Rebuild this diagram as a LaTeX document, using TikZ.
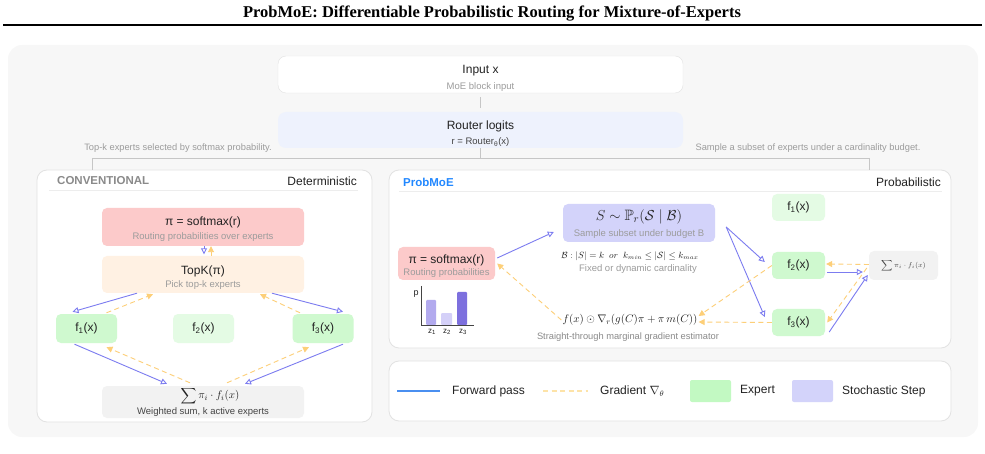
\documentclass[tikz,border=0pt]{standalone}
\usepackage{fontspec}
\setmainfont{Liberation Sans}
\newfontfamily\titlefont{Liberation Serif}
\usepackage{amssymb}
\usetikzlibrary{arrows.meta}

\definecolor{bggray}{HTML}{F7F7F7}
\definecolor{edgegray}{HTML}{E2E2E2}
\definecolor{rulegray}{HTML}{EDEDED}
\definecolor{linkgray}{HTML}{C6C6C6}
\definecolor{inkdark}{HTML}{222222}
\definecolor{inkmid}{HTML}{444444}
\definecolor{inkgray}{HTML}{9C9C9C}
\definecolor{headgray}{HTML}{8A8A8A}
\definecolor{routerblue}{HTML}{EEF2FD}
\definecolor{softpink}{HTML}{FCCACA}
\definecolor{peach}{HTML}{FFF1E3}
\definecolor{expgreen}{HTML}{CFF9CF}
\definecolor{idlegreen}{HTML}{E4FBE4}
\definecolor{leggreen}{HTML}{C2F9C2}
\definecolor{sumgray}{HTML}{F2F2F2}
\definecolor{lavender}{HTML}{D3D3FA}
\definecolor{fwdblue}{HTML}{7C7CF0}
\definecolor{gradgold}{HTML}{FDCF78}
\definecolor{legblue}{HTML}{4A8FF0}
\definecolor{leggold}{HTML}{FDE3A8}
\definecolor{probblue}{HTML}{2288FF}
\definecolor{barone}{HTML}{B2AAEE}
\definecolor{bartwo}{HTML}{D4D0F8}
\definecolor{barthree}{HTML}{7D70DE}

\begin{document}
\begin{tikzpicture}[x=1pt, y=-1pt,
    panel/.style={draw=edgegray, fill=white, rounded corners=10pt, line width=0.8pt, inner sep=0pt},
    tile/.style={rounded corners=5pt, inner sep=0pt},
    lbl/.style={font=\fontsize{12}{14}\selectfont, text=inkdark, inner sep=1pt},
    sub/.style={font=\fontsize{9.5}{11}\selectfont, text=inkgray, inner sep=1pt},
    note/.style={font=\fontsize{9.3}{11}\selectfont, text=inkgray, inner sep=1pt},
    link/.style={draw=linkgray, line width=0.8pt},
    fwd/.style={draw=fwdblue, line width=0.9pt, -{Triangle[open, length=6pt, width=6pt]}},
    grad/.style={draw=gradgold, line width=0.9pt, dash pattern=on 5pt off 3.5pt, -{Triangle[length=6pt, width=6pt]}}]
  \useasboundingbox (0,0) rectangle (985,454);

  \node[font=\titlefont\bfseries\fontsize{16.5}{18}\selectfont, inner sep=0pt] (title) at (492,13.5) {ProbMoE: Differentiable Probabilistic Routing for Mixture-of-Experts};
  \draw[line width=2pt] (3,25.5) -- (982,25.5);
  \fill[bggray, rounded corners=14pt] (8,45) rectangle (978,437);

  % shared top
  \node[tile, draw=edgegray, fill=white, rounded corners=8pt, minimum width=405pt, minimum height=37pt] (inp) at (480.5,74.5) {};
  \node[lbl] (inpt) at (480.5,71) {Input x};
  \node[sub] (inps) at (480.5,87) {MoE block input};
  \node[tile, fill=routerblue, rounded corners=8pt, minimum width=405pt, minimum height=36pt] (rtr) at (480.5,130) {};
  \node[lbl] (rtrt) at (480.5,126) {Router logits};
  \node[sub, text=inkmid] (rtrs) at (480.5,142) {r = Router\textsubscript{θ}(x)};
  \draw[link, shorten <=4pt, shorten >=4pt] (inp) -- (rtr);

  \node[panel, minimum width=335pt, minimum height=252pt] (cpan) at (204.5,296) {};
  \node[panel, minimum width=562pt, minimum height=178pt] (ppan) at (670,259) {};
  \node[panel, minimum width=562pt, minimum height=60pt] (leg) at (670,391) {};

  \coordinate (lsplit) at (92,158);
  \coordinate (rsplit) at (869,158);
  \draw[link] (rtr.south) -- (rtr.south |- lsplit);
  \draw[link] (lsplit) -- (rsplit);
  \draw[link] (lsplit) -- (lsplit |- cpan.north);
  \draw[link] (rsplit) -- (rsplit |- ppan.north);
  \node[note] (lnote) at (178,148) {Top-k experts selected by softmax probability.};
  \node[note] (rnote) at (808,148) {Sample a subset of experts under a cardinality budget.};

  % conventional
  \node[lbl, font=\bfseries\fontsize{11.5}{14}\selectfont, text=headgray, anchor=west] (chead) at (56,181) {CONVENTIONAL};
  \node[lbl, anchor=east] (ctag) at (358,181) {Deterministic};
  \draw[rulegray, line width=0.8pt] (49,190.5) -- (358,190.5);

  \node[tile, fill=softpink, minimum width=202pt, minimum height=38pt] (csm) at (203,227) {};
  \node[lbl] (csmt) at (203,222) {π = softmax(r)};
  \node[sub] (csms) at (203,237) {Routing probabilities over experts};
  \node[tile, fill=peach, minimum width=202pt, minimum height=37pt] (ctk) at (203,274.5) {};
  \node[lbl] (ctkt) at (203,271) {TopK(π)};
  \node[sub] (ctks) at (203,285) {Pick top-k experts};

  \node[tile, fill=expgreen, minimum width=61pt, minimum height=29pt] (cf1) at (86.5,328.5) {};
  \node[tile, fill=idlegreen, minimum width=61pt, minimum height=29pt] (cf2) at (203.5,328.5) {};
  \node[tile, fill=expgreen, minimum width=61pt, minimum height=29pt] (cf3) at (323,328.5) {};
  \node[lbl] at (cf1) {f\textsubscript{1}(x)};
  \node[lbl] at (cf2) {f\textsubscript{2}(x)};
  \node[lbl] at (cf3) {f\textsubscript{3}(x)};

  \node[tile, fill=sumgray, minimum width=202pt, minimum height=32pt] (csum) at (203,402) {};
  \node[lbl, font=\fontsize{11}{13}\selectfont, inner sep=0pt] (csumt) at (210,396) {$\displaystyle\sum \pi_i\cdot f_i(x)$};
  \node[lbl, font=\fontsize{9.5}{11}\selectfont, text=inkmid] (csums) at (203,412) {Weighted sum, k active experts};

  \draw[fwd] ([xshift=1pt]csm.south) -- ([xshift=1pt, yshift=1.5pt]ctk.north);
  \draw[grad] ([xshift=8pt]ctk.north) -- ([xshift=8pt]csm.south);
  \draw[fwd] ([xshift=-66pt]ctk.south) -- ([xshift=-14pt, yshift=2pt]cf1.north);
  \draw[grad] ([xshift=20pt, yshift=1pt]cf1.north) -- ([xshift=-50pt, yshift=-1pt]ctk.south);
  \draw[fwd] ([xshift=69pt]ctk.south) -- ([xshift=20pt, yshift=2pt]cf3.north);
  \draw[grad] ([xshift=-23pt, yshift=1pt]cf3.north) -- ([xshift=57pt, yshift=-1pt]ctk.south);
  \draw[fwd] ([xshift=-12pt, yshift=-1pt]cf1.south) -- ([xshift=-36pt, yshift=2pt]csum.north);
  \draw[grad] ([xshift=-13pt, yshift=3pt]csum.north) -- ([xshift=20pt, yshift=-4pt]cf1.south);
  \draw[fwd] ([xshift=20pt, yshift=-1pt]cf3.south) -- ([xshift=42pt, yshift=2pt]csum.north);
  \draw[grad] ([xshift=24pt, yshift=3pt]csum.north) -- ([xshift=-14pt, yshift=-4pt]cf3.south);

  % probmoe
  \node[lbl, font=\bfseries\fontsize{11.5}{14}\selectfont, text=probblue, anchor=west] (phead) at (402,182) {ProbMoE};
  \node[lbl, anchor=east] (ptag) at (942,182) {Probabilistic};
  \draw[rulegray, line width=0.8pt] (399,191.5) -- (942,191.5);

  \node[tile, fill=softpink, minimum width=97pt, minimum height=33pt] (psm) at (446.5,263.5) {};
  \node[lbl] (psmt) at (446.5,260) {π = softmax(r)};
  \node[sub] (psms) at (446.5,273) {Routing probabilities};

  \node[tile, fill=lavender, minimum width=152pt, minimum height=38pt] (pss) at (639,223) {};
  \node[lbl, font=\fontsize{15}{17}\selectfont] (psst) at (639,217) {$S\sim\mathbb{P}_r(\mathcal{S}\mid\mathcal{B})$};
  \node[sub] (psss) at (639,234) {Sample subset under budget B};
  \node[lbl, font=\fontsize{9}{11}\selectfont] (pbud) at (630,256) {$\mathcal{B}: |S| = k\ \ or\ \ k_{min}\le|\mathcal{S}|\le k_{max}$};
  \node[sub] (pbuds) at (638,269) {Fixed or dynamic cardinality};
  \node[lbl, font=\fontsize{11}{13}\selectfont] (pgr) at (630,320) {$f(x)\odot\nabla_r(g(C)\pi+\pi\,m(C))$};
  \node[sub, font=\fontsize{9.3}{11}\selectfont, text=headgray] (pgrs) at (628,337) {Straight-through marginal gradient estimator};

  \node[tile, fill=idlegreen, minimum width=53pt, minimum height=27pt] (pf1) at (798.5,207.5) {};
  \node[tile, fill=expgreen, minimum width=53pt, minimum height=27pt] (pf2) at (798.5,265.5) {};
  \node[tile, fill=expgreen, minimum width=53pt, minimum height=27pt] (pf3) at (798.5,322.5) {};
  \node[lbl] at (pf1) {f\textsubscript{1}(x)};
  \node[lbl] at (pf2) {f\textsubscript{2}(x)};
  \node[lbl] at (pf3) {f\textsubscript{3}(x)};
  \node[tile, fill=sumgray, minimum width=69pt, minimum height=29pt] (psum) at (903.5,265.5) {};
  \node[lbl, font=\fontsize{7.5}{9}\selectfont, text=inkmid] at (psum) {$\displaystyle\sum \pi_i\cdot f_i(x)$};

  \draw[fwd] ([xshift=2pt, yshift=5.5pt]psm.east) -- ([xshift=-9pt, yshift=-9pt]pss.west);
  \draw[grad] (pgr.west) -- ([xshift=2pt]psm.east);
  \draw[fwd] ([xshift=11pt, yshift=-4pt]pss.east) -- ([xshift=-7pt, yshift=3.5pt]pf2.west);
  \draw[fwd] ([xshift=11pt, yshift=-4pt]pss.east) -- ([xshift=-7pt, yshift=5.5pt]pf3.west);
  \draw[fwd] ([xshift=2pt, yshift=-6.5pt]pf2.east) -- ([xshift=-6pt, yshift=-6.5pt]psum.west);
  \draw[fwd] ([xshift=4pt, yshift=-9.5pt]pf3.east) -- ([xshift=-1pt, yshift=-9.5pt]psum.west);
  \draw[grad] ([yshift=1pt]psum.west) -- ([xshift=1pt, yshift=1.5pt]pf2.east);
  \draw[grad] ([xshift=-2pt, yshift=-2.5pt]psum.west) -- ([xshift=2pt]pf3.east);
  \draw[grad] (pf2.west) -- ([yshift=4pt]pgr.east);
  \draw[grad] (pf3.west) -- ([yshift=-2pt]pgr.east);

  % bar chart
  \fill[barone, rounded corners=1pt] (426,300) rectangle (436,325);
  \fill[bartwo, rounded corners=1pt] (441,313) rectangle (452,325);
  \fill[barthree, rounded corners=1pt] (457,292) rectangle (467,325);
  \draw[inkmid, line width=0.7pt] (421,286) -- (421,325) -- (474,325);
  \node[lbl, font=\fontsize{9}{10}\selectfont, inner sep=0pt] (pp) at (416,294) {p};
  \node[lbl, font=\fontsize{8}{9}\selectfont, inner sep=0pt] (zone) at (432,332) {z\textsubscript{1}};
  \node[lbl, font=\fontsize{8}{9}\selectfont, inner sep=0pt] (ztwo) at (447,332) {z\textsubscript{2}};
  \node[lbl, font=\fontsize{8}{9}\selectfont, inner sep=0pt] (zthree) at (463,332) {z\textsubscript{3}};

  % legend
  \draw[legblue, line width=1.2pt] (397,391) -- (440,391);
  \node[lbl, anchor=west] (lfwd) at (451,391) {Forward pass};
  \draw[leggold, line width=1.2pt, dash pattern=on 5pt off 3.5pt] (543,391) -- (588,391);
  \node[lbl, anchor=west] (lgrad) at (599,391) {Gradient $\nabla_{\theta}$};
  \fill[leggreen, rounded corners=2pt] (690,380) rectangle (731,402);
  \node[lbl, anchor=west] (lexp) at (739,391) {Expert};
  \fill[lavender, rounded corners=2pt] (792,380) rectangle (833,402);
  \node[lbl, anchor=west] (lsto) at (841,391) {Stochastic Step};
\end{tikzpicture}
\end{document}
